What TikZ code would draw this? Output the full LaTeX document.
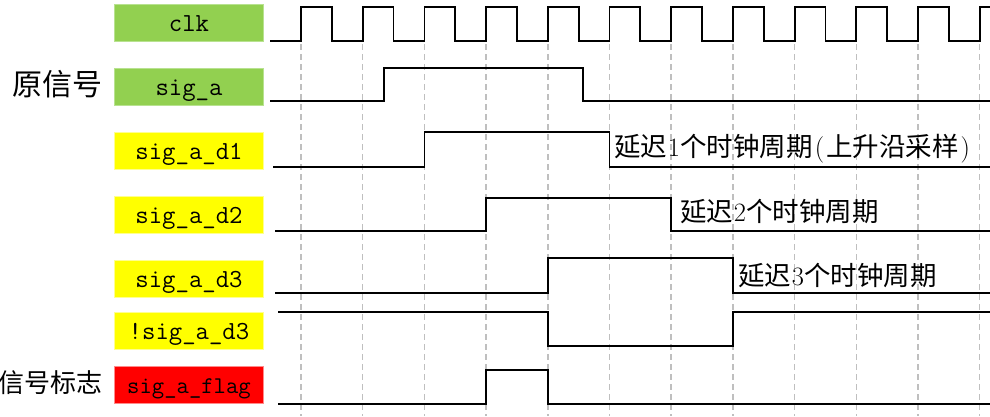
\documentclass[tikz,border=0pt]{standalone}
\usepackage{fontspec}
\newfontfamily\cjk{Noto Sans CJK SC}
\definecolor{boxgreen}{HTML}{92D050}
\definecolor{boxgreenb}{HTML}{B8E290}
\definecolor{boxyellow}{HTML}{FFFF00}
\definecolor{boxyellowb}{HTML}{FFFF90}
\definecolor{boxred}{HTML}{FF0000}
\definecolor{boxredb}{HTML}{FF8A8A}
\definecolor{gridgray}{HTML}{BFBFBF}
\tikzset{
  sigbox/.style={minimum width=149pt, minimum height=37pt, inner sep=0pt, anchor=north west,
    line width=1pt, font=\ttfamily\fontsize{26}{26}\selectfont, text height=20pt, text depth=3pt},
  gbox/.style={sigbox, fill=boxgreen, draw=boxgreenb},
  ybox/.style={sigbox, fill=boxyellow, draw=boxyellowb},
  rbox/.style={sigbox, fill=boxred, draw=boxredb},
  gridline/.style={draw=gridgray, line width=1.5pt, dash pattern=on 6pt off 4pt},
  wave/.style={draw=black, line width=1.8pt, line join=miter},
  sidelabel/.style={anchor=base west, inner sep=0pt},
  delaylabel/.style={anchor=base west, inner sep=0pt, font=\cjk\fontsize{26.5}{30}\selectfont},
}
\newcommand{\hw}[1]{\makebox[0.5em]{\rmfamily #1}}
\begin{document}
\begin{tikzpicture}[x=1pt, y=-1pt]
\useasboundingbox (0,0) rectangle (990,416);
% clock edge grid
\foreach \i in {0,...,11}
  \draw[gridline] ({301+\i*61.7},44) -- ({301+\i*61.7},416);
% signal name boxes
\node[gbox] (clk) at (114,4) {clk};
\node[gbox] (siga) at (114,68) {sig\_a};
\node[ybox] (d1) at (114,132) {sig\_a\_d1};
\node[ybox] (d2) at (114,196) {sig\_a\_d2};
\node[ybox] (d3) at (114,260) {sig\_a\_d3};
\node[ybox] (nd3) at (114,312) {!sig\_a\_d3};
\node[rbox, font=\ttfamily\fontsize{24}{24}\selectfont] (flag) at (114,366) {sig\_a\_flag};
% side labels
\node[sidelabel, font=\cjk\fontsize{30}{30}\selectfont] (orig) at (12,95) {原信号};
\node[sidelabel, font=\cjk\fontsize{26}{26}\selectfont] (flagtxt) at (-2,392) {信号标志};
% clock waveform
\draw[wave] (270,41)
  foreach \i in {0,...,10} { -- ({301+\i*61.7},41) -- ({301+\i*61.7},7)
     -- ({301+\i*61.7+30.85},7) -- ({301+\i*61.7+30.85},41) }
  -- (979.7,41) -- (979.7,7) -- (990,7);
% sig_a
\draw[wave] (270,101) -- (384,101) -- (384,68) -- (583,68) -- (583,101) -- (990,101);
% sig_a_d1
\draw[wave] (273,167) -- (424.4,167) -- (424.4,132) -- (609.5,132) -- (609.5,167) -- (990,167);
% sig_a_d2
\draw[wave] (275,231) -- (486.1,231) -- (486.1,198) -- (671.2,198) -- (671.2,231) -- (990,231);
% sig_a_d3
\draw[wave] (275,293) -- (547.8,293) -- (547.8,258) -- (732.9,258) -- (732.9,293) -- (990,293);
% !sig_a_d3
\draw[wave] (278,312) -- (547.8,312) -- (547.8,346) -- (732.9,346) -- (732.9,312) -- (990,312);
% sig_a_flag
\draw[wave] (278,404) -- (486.1,404) -- (486.1,370) -- (547.8,370) -- (547.8,404) -- (990,404);
% delay notes
\node[delaylabel] (n1) at (614,156) {延迟\hw{1}个时钟周期\hw{(}上升沿采样\hw{)}};
\node[delaylabel] (n2) at (680,221) {延迟\hw{2}个时钟周期};
\node[delaylabel] (n3) at (738,285) {延迟\hw{3}个时钟周期};
\end{tikzpicture}
\end{document}
